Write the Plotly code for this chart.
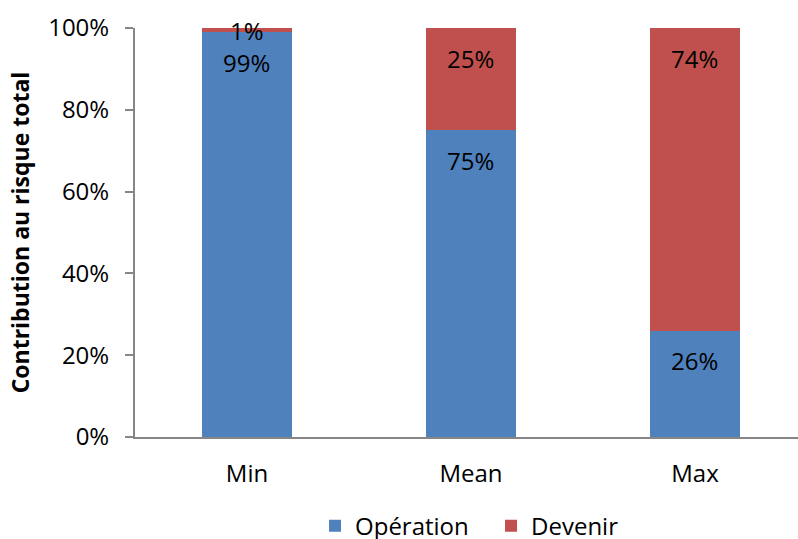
import plotly.graph_objects as go

categories = ["Min", "Mean", "Max"]
operation = [99, 75, 26]
devenir = [1, 25, 74]
operation_labels = ["99%", "75%", "26%"]
devenir_labels = ["1%", "25%", "74%"]
y_ticks = [0, 20, 40, 60, 80, 100]
y_tick_labels = ["0%", "20%", "40%", "60%", "80%", "100%"]

FONT = "Open Sans"
W, H = 798, 539
ML, MR, MT, MB = 135, 0, 28, 102
plot_h = H - MT - MB

fig = go.Figure()
fig.add_trace(go.Bar(x=categories, y=operation, name="Opération",
                     marker=dict(color="#4F81BD", line=dict(width=0))))
fig.add_trace(go.Bar(x=categories, y=devenir, name="Devenir",
                     marker=dict(color="#C0504D", line=dict(width=0))))

annotations = []
for i, c in enumerate(categories):
    base = 0
    for vals, labs in ((operation, operation_labels), (devenir, devenir_labels)):
        top = base + vals[i]
        seg_px = vals[i] / 100 * plot_h
        shift = -min(30, seg_px / 2)
        annotations.append(dict(x=c, y=top, text=labs[i], showarrow=False,
                                yshift=shift, yanchor="middle",
                                font=dict(family=FONT, size=24, color="black")))
        base = top

fig.update_layout(
    width=W, height=H,
    margin=dict(l=ML, r=MR, t=MT, b=MB, autoexpand=False),
    barmode="stack",
    bargap=0.6,
    plot_bgcolor="white",
    paper_bgcolor="white",
    font=dict(family=FONT, size=24, color="black"),
    annotations=annotations,
    showlegend=True,
    legend=dict(orientation="h", x=0.537, xanchor="center", y=-0.218, yanchor="middle",
                font=dict(family=FONT, size=24), traceorder="normal",
                itemwidth=30, entrywidth=131, bgcolor="rgba(0,0,0,0)"),
    xaxis=dict(range=[-0.5, 2.46], showline=True, linecolor="#868686", linewidth=2,
               ticks="", showgrid=False, zeroline=False,
               tickfont=dict(family=FONT, size=24), ticklabelstandoff=14),
    yaxis=dict(range=[0, 100], tickvals=y_ticks, ticktext=y_tick_labels,
               showline=True, linecolor="#868686", linewidth=2,
               ticks="outside", ticklen=8, tickcolor="#868686", tickwidth=2,
               showgrid=False, zeroline=False,
               tickfont=dict(family=FONT, size=24), ticklabelstandoff=11,
               title=dict(text="<b>Contribution au risque total</b>",
                          font=dict(family=FONT, size=23), standoff=12)),
)

fig.write_html("out.html")
